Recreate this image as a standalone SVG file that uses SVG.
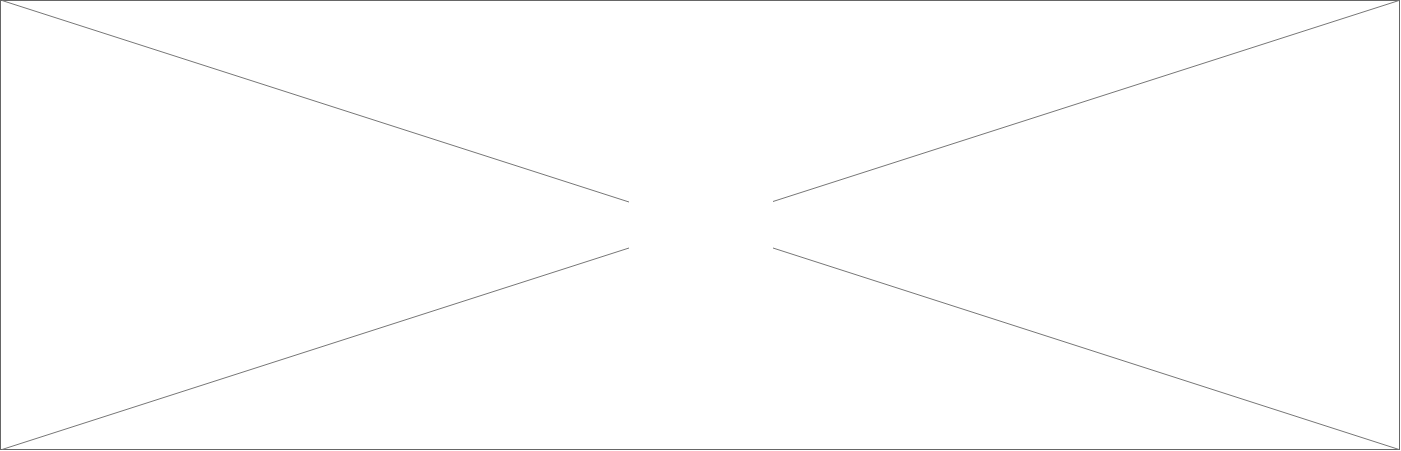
<svg xmlns="http://www.w3.org/2000/svg" width="1401" height="451" viewBox="0 0 1401 451">
<style>
.frame{fill:#ffffff;stroke:#666666;stroke-width:1}
.ln{stroke:#777777;stroke-width:1;fill:none}
</style>
<rect x="0" y="0" width="1401" height="451" fill="#ffffff"/>
<rect class="frame" x="0.5" y="0.5" width="1399" height="449"/>
<g id="lines">
<line class="ln" x1="2" y1="0.5" x2="629" y2="202"/>
<line class="ln" x1="773" y1="201.5" x2="1399" y2="0.5"/>
<line class="ln" x1="2" y1="449.5" x2="629" y2="248"/>
<line class="ln" x1="773" y1="248" x2="1399" y2="449.5"/>
</g>
</svg>
